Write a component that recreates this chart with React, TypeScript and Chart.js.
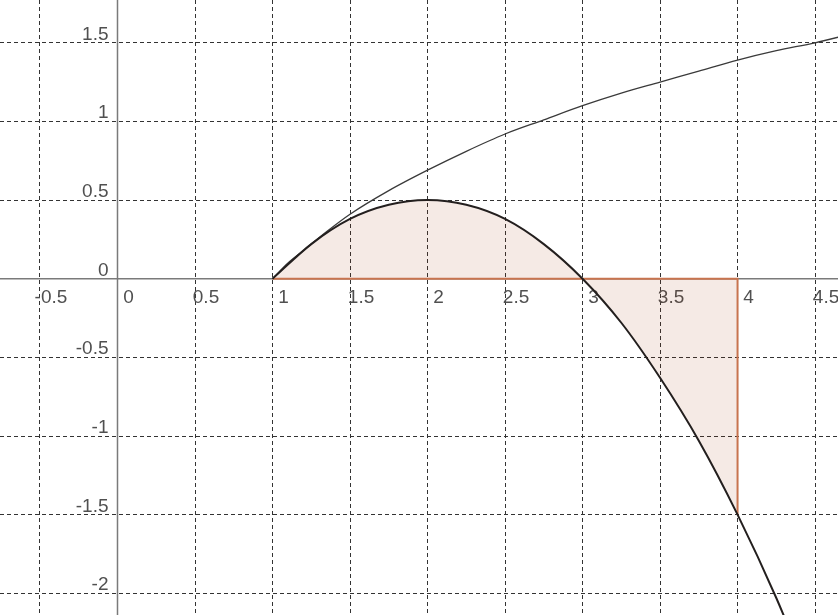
import React, { useEffect, useRef } from "react";
import { Chart, registerables } from "chart.js";

Chart.register(...registerables);

// Visible window of the plot
const xMin = -0.758;
const xMax = 4.648;
const yMin = -2.138;
const yMax = 1.772;

// Tick values / labels
const xTicks = [-0.5, 0, 0.5, 1, 1.5, 2, 2.5, 3, 3.5, 4, 4.5];
const xTickLabels = ["-0.5", "0", "0.5", "1", "1.5", "2", "2.5", "3", "3.5", "4", "4.5"];
const yTicks = [1.5, 1, 0.5, 0, -0.5, -1, -1.5, -2];
const yTickLabels = ["1.5", "1", "0.5", "0", "-0.5", "-1", "-1.5", "-2"];

// Upper curve
const upperX = [1, 1.1, 1.2, 1.35, 1.5, 1.75, 2, 2.25, 2.5, 2.75, 3, 3.25, 3.5, 3.75, 4, 4.25, 4.5, 4.75];
const upperY = [0, 0.1, 0.18, 0.3, 0.41, 0.56, 0.69, 0.81, 0.92, 1.01, 1.1, 1.18, 1.25, 1.32, 1.39, 1.45, 1.5, 1.56];

// Lower curve
const lowerX = [1, 1.25, 1.5, 1.75, 2, 2.25, 2.5, 2.75, 3, 3.25, 3.5, 3.75, 4, 4.25, 4.5];
const lowerY = [0, 0.22, 0.38, 0.47, 0.5, 0.47, 0.38, 0.22, 0, -0.28, -0.63, -1.03, -1.5, -2.03, -2.63];

// Shaded region between lower curve and x-axis
const areaX = [1, 1.25, 1.5, 1.75, 2, 2.25, 2.5, 2.75, 3, 3.25, 3.5, 3.75, 4];
const areaY = [0, 0.22, 0.38, 0.47, 0.5, 0.47, 0.38, 0.22, 0, -0.28, -0.63, -1.03, -1.5];

// Region edge (bottom along axis and right side)
const edgeX = [1, 4, 4];
const edgeY = [0, 0, -1.5];

const toPts = (xs: number[], ys: number[]) => xs.map((x, i) => ({ x, y: ys[i] }));

const crisp = (p: number) => Math.floor(p) + 0.5;

const gridPlugin = {
  id: "geoGrid",
  beforeDatasetsDraw(chart: any) {
    const { ctx, chartArea } = chart;
    const xs = chart.scales.x;
    const ys = chart.scales.y;
    ctx.save();
    // dashed grid
    ctx.strokeStyle = "#333333";
    ctx.lineWidth = 1;
    ctx.setLineDash([4, 3]);
    xTicks.forEach((v) => {
      if (v === 0) return;
      const px = crisp(xs.getPixelForValue(v));
      ctx.beginPath();
      ctx.moveTo(px, chartArea.top);
      ctx.lineTo(px, chartArea.bottom);
      ctx.stroke();
    });
    yTicks.forEach((v) => {
      if (v === 0) return;
      const py = crisp(ys.getPixelForValue(v));
      ctx.beginPath();
      ctx.moveTo(chartArea.left, py);
      ctx.lineTo(chartArea.right, py);
      ctx.stroke();
    });
    ctx.setLineDash([]);
    // axes
    const x0 = xs.getPixelForValue(0);
    const y0 = ys.getPixelForValue(0);
    ctx.strokeStyle = "#7a7a7a";
    ctx.lineWidth = 1.5;
    ctx.beginPath();
    ctx.moveTo(chartArea.left, y0);
    ctx.lineTo(chartArea.right, y0);
    ctx.stroke();
    ctx.beginPath();
    ctx.moveTo(x0, chartArea.top);
    ctx.lineTo(x0, chartArea.bottom);
    ctx.stroke();
    // labels
    ctx.fillStyle = "#505050";
    ctx.font = '19px "Liberation Sans", Arial, sans-serif';
    ctx.textAlign = "center";
    ctx.textBaseline = "alphabetic";
    xTicks.forEach((v, i) => {
      const px = xs.getPixelForValue(v);
      ctx.fillText(xTickLabels[i], px + 11, y0 + 24.5);
    });
    ctx.textAlign = "right";
    yTicks.forEach((v, i) => {
      const py = ys.getPixelForValue(v);
      ctx.fillText(yTickLabels[i], x0 - 9, py - 3);
    });
    ctx.restore();
  },
};

export default function App() {
  const ref = useRef<HTMLCanvasElement | null>(null);
  useEffect(() => {
    if (!ref.current) return;
    const chart = new Chart(ref.current, {
      type: "scatter",
      data: {
        datasets: [
          {
            data: toPts(areaX, areaY),
            showLine: true,
            borderWidth: 0,
            borderColor: "rgba(0,0,0,0)",
            backgroundColor: "rgba(153,51,0,0.1)",
            fill: "origin",
            pointRadius: 0,
            cubicInterpolationMode: "monotone",
            order: 4,
          },
          {
            data: toPts(edgeX, edgeY),
            showLine: true,
            borderWidth: 2,
            borderColor: "#c8744f",
            fill: false,
            pointRadius: 0,
            tension: 0,
            order: 3,
          },
          {
            data: toPts(upperX, upperY),
            showLine: true,
            borderWidth: 1.3,
            borderColor: "#3a3a3a",
            fill: false,
            pointRadius: 0,
            cubicInterpolationMode: "monotone",
            order: 2,
          },
          {
            data: toPts(lowerX, lowerY),
            showLine: true,
            borderWidth: 2,
            borderColor: "#231f1e",
            fill: false,
            pointRadius: 0,
            cubicInterpolationMode: "monotone",
            order: 1,
          },
        ],
      },
      options: {
        responsive: false,
        animation: false,
        layout: { padding: 0 },
        plugins: {
          legend: { display: false },
          tooltip: { enabled: false },
        },
        scales: {
          x: { type: "linear", min: xMin, max: xMax, display: false },
          y: { type: "linear", min: yMin, max: yMax, display: false },
        },
      },
      plugins: [gridPlugin],
    });
    return () => chart.destroy();
  }, []);
  return (
    <div style={{ position: "absolute", left: 0, top: 0, width: 838, height: 615, background: "#ffffff" }}>
      <canvas ref={ref} width={838} height={615} style={{ display: "block" }} />
    </div>
  );
}
